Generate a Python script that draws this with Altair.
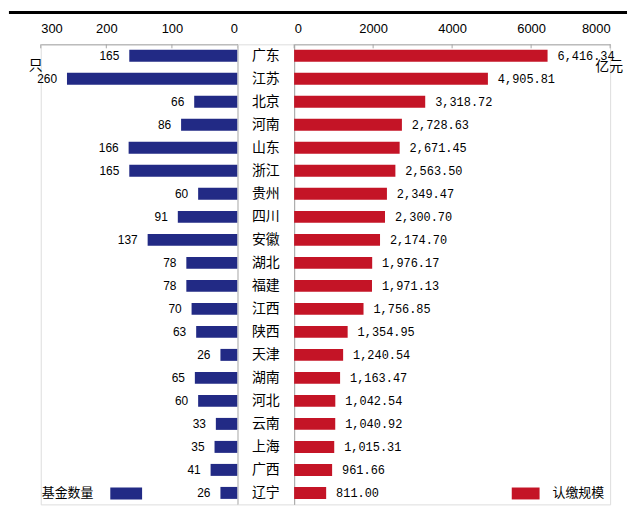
import altair as alt
import pandas as pd

provinces = ["广东", "江苏", "北京", "河南", "山东", "浙江", "贵州", "四川", "安徽", "湖北",
             "福建", "江西", "陕西", "天津", "湖南", "河北", "云南", "上海", "广西", "辽宁"]
counts = [165, 260, 66, 86, 166, 165, 60, 91, 137, 78, 78, 70, 63, 26, 65, 60, 33, 35, 41, 26]
amounts = [6416.34, 4905.81, 3318.72, 2728.63, 2671.45, 2563.50, 2349.47, 2300.70, 2174.70, 1976.17,
           1971.13, 1756.85, 1354.95, 1240.54, 1163.47, 1042.54, 1040.92, 1015.31, 961.66, 811.00]
left_ticks = [0, 100, 200, 300]
right_ticks = [0, 2000, 4000, 6000, 8000]
left_unit = "只"
right_unit = "亿元"
left_legend = "基金数量"
right_legend = "认缴规模"

df = pd.DataFrame({"province": provinces, "count": counts, "amount": amounts})
df["amount_label"] = [f"{v:,.2f}" for v in amounts]
one = pd.DataFrame({"a": [0]})

BLUE = "#222A85"
RED = "#C41426"
GRAY = "#A6A6A6"
H = 463
CJK = "Noto Sans CJK SC"

yscale = alt.Scale(paddingInner=0.48, paddingOuter=0.24)


def yaxis(orient):
    return alt.Axis(orient=orient, domain=True, domainColor=GRAY, labels=False,
                    ticks=False, grid=False, title=None)


def xaxis(values):
    return alt.Axis(orient="top", values=values, ticks=False, grid=False, domainColor=GRAY,
                    labelFont="Liberation Sans", labelFontSize=13, labelColor="black",
                    labelPadding=9, title=None, format="d")


# ---------- left panel ----------
lx = alt.X("count:Q", scale=alt.Scale(domain=[0, 300], reverse=True), axis=xaxis(left_ticks))
ly = alt.Y("province:N", sort=provinces, scale=yscale, axis=yaxis("right"))
lbase = alt.Chart(df)
lbars = lbase.mark_bar(color=BLUE).encode(x=lx, y=ly)
llabels = lbase.mark_text(align="right", baseline="middle", dx=-10, font="Liberation Sans",
                          fontSize=12, color="black").encode(x=lx, y=ly, text="count:Q")
lticks = alt.Chart(pd.DataFrame({"t": left_ticks})).mark_rule(color=GRAY).encode(
    x=alt.X("t:Q", scale=alt.Scale(domain=[0, 300], reverse=True), axis=xaxis(left_ticks)),
    y=alt.value(0), y2=alt.value(4))
topline = alt.Chart(one).mark_rule(color="black", strokeWidth=3).encode(
    x=alt.value(-32), x2=alt.value(590), y=alt.value(-32))
lunit = alt.Chart(one).mark_text(text=left_unit, font=CJK, fontSize=14, color="black").encode(
    x=alt.value(-5), y=alt.value(22))
lleg_t = alt.Chart(one).mark_text(text=left_legend, font=CJK, fontSize=13, color="black",
                                  align="left", baseline="middle").encode(
    x=alt.value(1), y=alt.value(452))
lleg_r = alt.Chart(one).mark_rect(color=BLUE).encode(
    x=alt.value(70), x2=alt.value(102), y=alt.value(446), y2=alt.value(458))
left = alt.layer(lbars, llabels, lticks, topline, lunit, lleg_t, lleg_r).properties(width=198, height=H)

# ---------- middle panel ----------
mid = alt.Chart(df).mark_text(font=CJK, fontSize=14, color="black", align="center",
                              baseline="middle").encode(
    y=alt.Y("province:N", sort=provinces, scale=yscale, axis=None),
    x=alt.value(28.5), text="province:N").properties(width=57, height=H)

# ---------- right panel ----------
rx = alt.X("amount:Q", scale=alt.Scale(domain=[0, 8000]), axis=xaxis(right_ticks))
ry = alt.Y("province:N", sort=provinces, scale=yscale, axis=yaxis("left"))
rbase = alt.Chart(df)
rbars = rbase.mark_bar(color=RED).encode(x=rx, y=ry)
rlabels = rbase.mark_text(align="left", baseline="middle", dx=10, font="Liberation Mono",
                          fontSize=12, color="black").encode(x=rx, y=ry, text="amount_label:N")
rticks = alt.Chart(pd.DataFrame({"t": right_ticks})).mark_rule(color=GRAY).encode(
    x=alt.X("t:Q", scale=alt.Scale(domain=[0, 8000]), axis=xaxis(right_ticks)),
    y=alt.value(0), y2=alt.value(4))
runit = alt.Chart(one).mark_text(text=right_unit, font=CJK, fontSize=14, color="black").encode(
    x=alt.value(317), y=alt.value(23))
rleg_r = alt.Chart(one).mark_rect(color=RED).encode(
    x=alt.value(219), x2=alt.value(247), y=alt.value(446), y2=alt.value(458))
rleg_t = alt.Chart(one).mark_text(text=right_legend, font=CJK, fontSize=13, color="black",
                                  align="left", baseline="middle").encode(
    x=alt.value(260), y=alt.value(452))
right = alt.layer(rbars, rlabels, rticks, runit, rleg_r, rleg_t).properties(width=318, height=H)

chart = alt.hconcat(left, mid, right, spacing=0, bounds="flush").properties(
    padding={"left": 7, "top": 9, "right": 0, "bottom": 0}
).configure_view(strokeWidth=0).configure(background="white")

chart.save("out.html", embed_options={"renderer": "svg", "actions": False})
